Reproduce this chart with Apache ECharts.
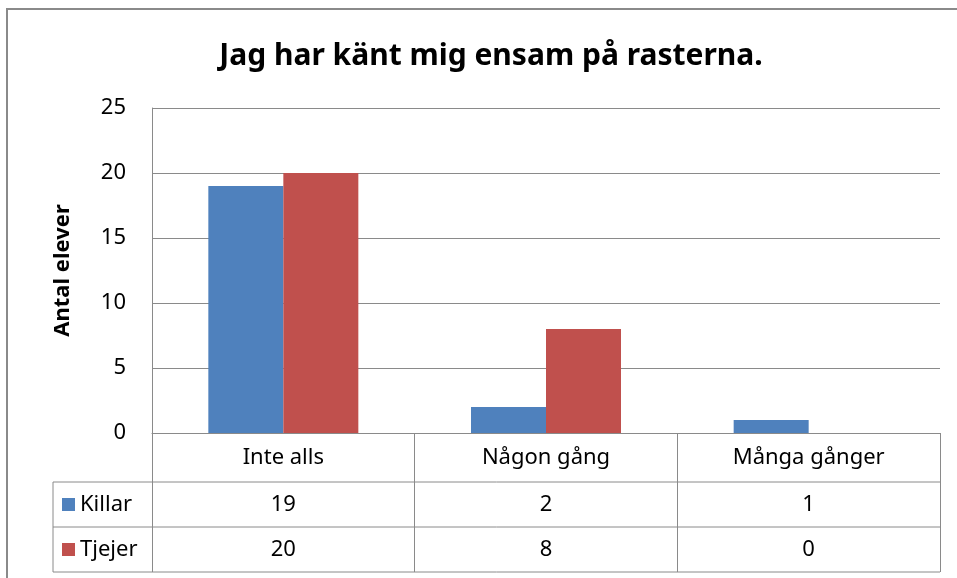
<!DOCTYPE html>
<html>
<head>
<meta charset="utf-8">
<script src="https://cdn.jsdelivr.net/npm/echarts@6/dist/echarts.min.js"></script>
<style>
  html, body { margin: 0; padding: 0; background: #fff; }
  #chart { width: 957px; height: 578px; }
</style>
</head>
<body>
<div id="chart"></div>
<script>
var categories = ['Inte alls', 'Någon gång', 'Många gånger'];
var killar = [19, 2, 1];
var tjejer = [20, 8, 0];
var seriesNames = ['Killar', 'Tjejer'];
var yTicks = [0, 5, 10, 15, 20, 25];

var gridLeft = 152, gridTop = 108, gridRight = 17, gridH = 325;
var axisY = gridTop + gridH;      // y of the 0 line
var headRow = 49, valRow = 45;    // data table row heights
var tableLeft = 53, tableRight = 957 - gridRight;
var lineColor = '#8a8a8a';
var font = 'Noto Sans';

var chart = echarts.init(document.getElementById('chart'));

// horizontal lines of the data table + its left edge
var tableLines = [];
[axisY + headRow, axisY + headRow + valRow, axisY + headRow + 2 * valRow].forEach(function (y) {
  tableLines.push({
    type: 'line',
    shape: { x1: tableLeft, y1: y, x2: tableRight, y2: y },
    style: { stroke: lineColor, lineWidth: 1 }
  });
});
tableLines.push({
  type: 'line',
  shape: { x1: tableLeft, y1: axisY + headRow, x2: tableLeft, y2: axisY + headRow + 2 * valRow },
  style: { stroke: lineColor, lineWidth: 1 }
});

option = {
  animation: false,
  title: {
    text: 'Jag har känt mig ensam på rasterna.',
    left: 486,
    top: 36,
    textAlign: 'center',
    textStyle: { fontFamily: font, fontSize: 30, fontWeight: 'bold', color: '#000' }
  },
  legend: {
    data: seriesNames,
    orient: 'vertical',
    left: 62,
    top: axisY + headRow,
    padding: 0,
    itemGap: 0,
    itemWidth: 13,
    itemHeight: 13,
    icon: 'rect',
    selectedMode: false,
    textStyle: { fontFamily: font, fontSize: 22, color: '#000', lineHeight: valRow }
  },
  grid: {
    left: gridLeft,
    right: gridRight,
    top: gridTop,
    height: gridH
  },
  xAxis: {
    type: 'category',
    data: categories,
    axisLine: { lineStyle: { color: lineColor } },
    axisTick: {
      show: true,
      interval: 0,
      length: headRow + 2 * valRow,
      lineStyle: { color: lineColor }
    },
    axisLabel: {
      interval: 0,
      margin: 0,
      formatter: function (v, i) {
        return '{c|' + v + '}\n{v|' + killar[i] + '}\n{v|' + tjejer[i] + '}';
      },
      rich: {
        c: { fontFamily: font, fontSize: 22, color: '#000', lineHeight: headRow },
        v: { fontFamily: font, fontSize: 22, color: '#000', lineHeight: valRow }
      }
    }
  },
  yAxis: {
    type: 'value',
    min: yTicks[0],
    max: yTicks[yTicks.length - 1],
    interval: 5,
    name: 'Antal elever',
    nameLocation: 'middle',
    nameGap: 78,
    nameTextStyle: { fontFamily: font, fontSize: 22, fontWeight: 'bold', color: '#000' },
    axisLine: { show: true, lineStyle: { color: lineColor } },
    axisTick: { show: false },
    axisLabel: { margin: 26, fontFamily: font, fontSize: 22, color: '#000' },
    splitLine: { lineStyle: { color: lineColor } }
  },
  series: [
    {
      name: seriesNames[0],
      type: 'bar',
      data: killar,
      barWidth: 75,
      barGap: '0%',
      itemStyle: { color: '#4F81BD' }
    },
    {
      name: seriesNames[1],
      type: 'bar',
      data: tjejer,
      barWidth: 75,
      barGap: '0%',
      itemStyle: { color: '#C0504D' }
    }
  ],
  graphic: [
    {
      type: 'rect',
      shape: { x: 7, y: 9, width: 1200, height: 1200 },
      style: { fill: 'none', stroke: '#8a8a8a', lineWidth: 2 },
      silent: true
    }
  ].concat(tableLines)
};

chart.setOption(option);
</script>
</body>
</html>
